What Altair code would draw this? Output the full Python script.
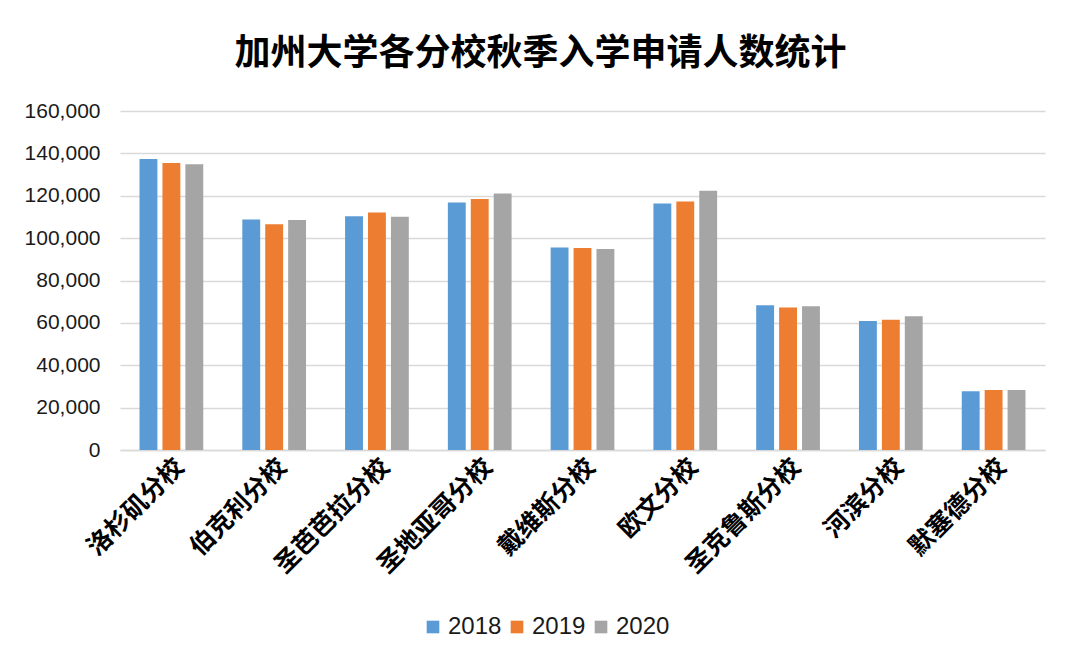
import altair as alt
import pandas as pd

campuses = ["洛杉矶分校", "伯克利分校", "圣芭芭拉分校", "圣地亚哥分校", "戴维斯分校",
            "欧文分校", "圣克鲁斯分校", "河滨分校", "默塞德分校"]
years = ["2018", "2019", "2020"]
apps_2018 = [137300, 108800, 110300, 116800, 95600, 116400, 68300, 60900, 27700]
apps_2019 = [135400, 106500, 112100, 118500, 95300, 117300, 67300, 61500, 28300]
apps_2020 = [134900, 108500, 110100, 121100, 94900, 122400, 67800, 63100, 28300]
colors = ["#5B9BD5", "#ED7D31", "#A5A5A5"]

rows = []
for series, yr in zip([apps_2018, apps_2019, apps_2020], years):
    for c, v in zip(campuses, series):
        rows.append({"campus": c, "year": yr, "value": v})
df = pd.DataFrame(rows)

cjk = "Noto Sans CJK SC"
num = "Liberation Sans"

chart = alt.Chart(df).mark_bar().encode(
    x=alt.X("campus:N", sort=campuses,
            scale=alt.Scale(paddingInner=0.38, paddingOuter=0.19),
            axis=alt.Axis(title=None, labelAngle=-45, labelAlign="right",
                          labelBaseline="top", labelFont=cjk, labelFontSize=25,
                          labelFontWeight="bold", labelColor="#000000",
                          labelPadding=4, ticks=False, domainColor="#d9d9d9",
                          domainWidth=1.5, grid=False)),
    xOffset=alt.XOffset("year:N", sort=years,
                        scale=alt.Scale(paddingInner=0.22, paddingOuter=0)),
    y=alt.Y("value:Q", scale=alt.Scale(domain=[0, 160000], nice=False),
            axis=alt.Axis(title=None, values=list(range(0, 160001, 20000)),
                          format=",.0f", labelFont=num, labelFontSize=21,
                          labelColor="#1a1a1a", labelPadding=20, ticks=False,
                          domain=False, gridColor="#d9d9d9", gridWidth=1.5)),
    color=alt.Color("year:N", sort=years,
                    scale=alt.Scale(domain=years, range=colors),
                    legend=alt.Legend(title=None, orient="none", direction="horizontal",
                                      legendX=301, legendY=504, symbolType="square",
                                      symbolSize=160, symbolStrokeWidth=0,
                                      labelFont=num, labelFontSize=24,
                                      labelColor="#1a1a1a", columnPadding=3,
                                      labelOffset=3)),
).properties(
    width=925,
    height=339,
    title=alt.TitleParams("加州大学各分校秋季入学申请人数统计", font=cjk, fontSize=36,
                          fontWeight="bold", color="#000000", anchor="middle",
                          dx=-42, offset=27),
    autosize=alt.AutoSizeParams(type="none"),
    padding={"left": 112, "top": 103, "right": 27, "bottom": 214},
).configure_view(stroke=None)

chart.save("out.html", embed_options={"renderer": "svg", "actions": False})
